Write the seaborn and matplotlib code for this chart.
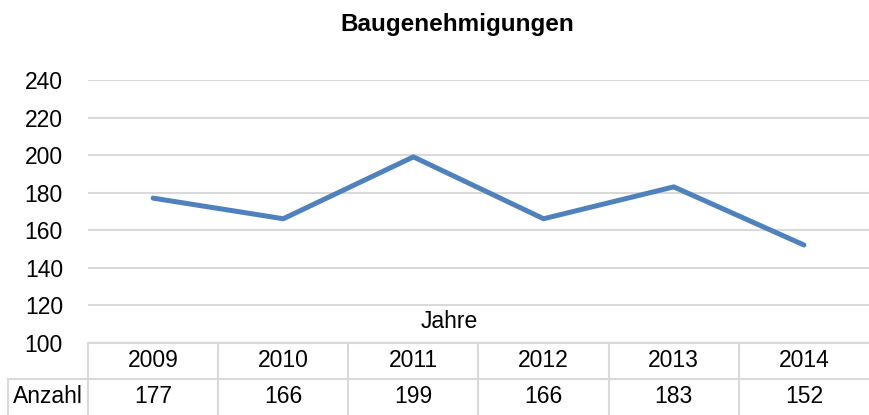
import numpy as np
import matplotlib
matplotlib.use("Agg")
from matplotlib import pyplot as plt
import seaborn as sns

# data
years = ["2009", "2010", "2011", "2012", "2013", "2014"]
anzahl = [177, 166, 199, 166, 183, 152]
yticks = [100, 120, 140, 160, 180, 200, 220, 240]
title = "Baugenehmigungen"
row_label = "Anzahl"
x_title = "Jahre"

sns.set_theme(style="white")
plt.rcParams['font.family'] = ['Liberation Sans Narrow', 'Liberation Sans', 'DejaVu Sans']
plt.rcParams['text.color'] = 'black'
plt.rcParams['ytick.color'] = 'black'
fs = 16.5

W, H = 869, 415
fig = plt.figure(figsize=(W / 100, H / 100), dpi=100)

# plot area in pixels
left, right, top, bottom = 88, 869, 80, 342.5
ax = fig.add_axes([left / W, 1 - bottom / H, (right - left) / W, (bottom - top) / H])

x = np.arange(len(years))
sns.lineplot(x=x, y=anzahl, ax=ax, color="#4F81BD", linewidth=3.6)

ax.set_xlim(-0.5, len(years) - 0.5)
ax.set_ylim(yticks[0], yticks[-1])
ax.set_yticks(yticks)
ax.set_yticklabels([str(t) for t in yticks], fontsize=fs, color="black")
ax.set_xticks([])
ax.tick_params(axis="y", length=0, pad=18)
ax.grid(axis="y", color="#D9D9D9", linewidth=1.5)
ax.set_axisbelow(True)
for s in ax.spines.values():
    s.set_visible(False)

fig.text(457 / W, 1 - 25 / H, title, ha="center", va="center",
         fontsize=17.5, fontweight="bold", color="black")
fig.text(449 / W, 1 - 322 / H, x_title, ha="center", va="center", fontsize=fs)

# data table under the chart
col_w = (right - left) / len(years)
lab_w = (left - 8) / col_w
tab = fig.add_axes([8 / W, 0, (W - 8) / W, 1 - bottom / H])
tab.set_xlim(-0.5 - lab_w, len(years) - 0.5)
tab.set_ylim(0, 2)
tab.axis("off")
lc = "#D9D9D9"
lw = 1.5
tab.plot([-0.5, len(years) - 0.5], [2, 2], color=lc, lw=lw, clip_on=False)
tab.plot([-0.5 - lab_w, len(years) - 0.5], [1, 1], color=lc, lw=lw, clip_on=False)
tab.plot([-0.5 - lab_w, -0.5 - lab_w], [0, 1], color=lc, lw=lw, clip_on=False)
for i in range(len(years)):
    tab.plot([i - 0.5, i - 0.5], [0, 2], color=lc, lw=lw, clip_on=False)
    tab.text(i, 1.5, years[i], ha="center", va="center", fontsize=fs)
    tab.text(i, 0.5, str(anzahl[i]), ha="center", va="center", fontsize=fs)
tab.text(-0.5 - lab_w / 2, 0.5, row_label, ha="center", va="center", fontsize=fs)

fig.savefig("out.png", dpi=100, facecolor="white")
